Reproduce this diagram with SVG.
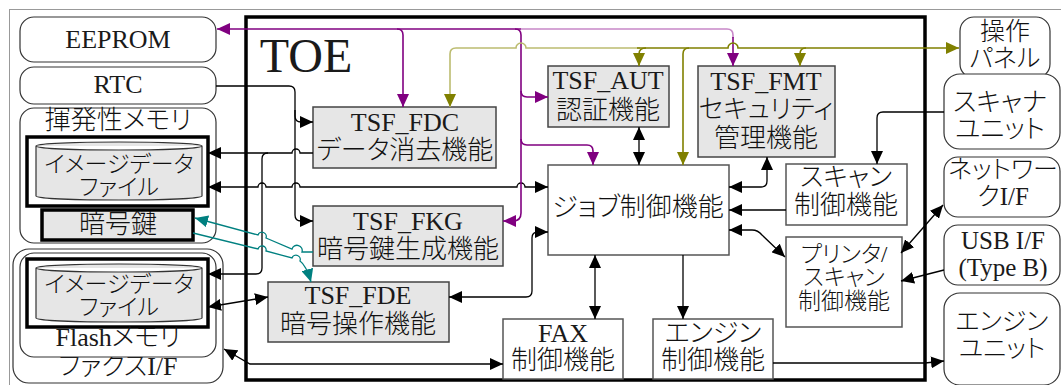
<svg xmlns="http://www.w3.org/2000/svg" width="1061" height="385" viewBox="0 0 1061 385">
<style>
text{font-family:"Liberation Serif","Noto Sans CJK JP",serif;font-size:26px;font-weight:300;fill:#111;text-anchor:middle;font-feature-settings:"palt"}
text.L,tspan.L{font-weight:400;fill:#1a1a1a}
text.s{font-size:23px}
text.r{font-size:25px}
.rb{fill:#fff;stroke:#333;stroke-width:1.2}
.gb{fill:#e6e6e6;stroke:#444;stroke-width:1.5}
.wb{fill:#fff;stroke:#555;stroke-width:1.5}
.tk{fill:#fff;stroke:#000;stroke-width:3.5}
.cyl{fill:#e6e6e6;stroke:#333;stroke-width:1.2}
.ka{fill:none;stroke:#000;stroke-width:1.3;marker-end:url(#ak)}
.kb{fill:none;stroke:#000;stroke-width:1.3;marker-end:url(#ak);marker-start:url(#ak)}
.pa{fill:none;stroke:#800080;stroke-width:1.6;marker-end:url(#ap)}
.pl{fill:none;stroke:#c888c8;stroke-width:1.6}
.oa{fill:none;stroke:#808000;stroke-width:1.6;marker-end:url(#ao)}
.ol{fill:none;stroke:#bcbc70;stroke-width:1.6;marker-end:url(#ao)}
.ta{fill:none;stroke:#008080;stroke-width:1.3;marker-end:url(#at)}
</style>
<defs>
<marker id="ak" viewBox="0 0 13 12" refX="13" refY="6" markerWidth="13" markerHeight="12" markerUnits="userSpaceOnUse" orient="auto-start-reverse"><path d="M0,0 L13,6 L0,12 Z" fill="#000"/></marker>
<marker id="ap" viewBox="0 0 13 12" refX="13" refY="6" markerWidth="13" markerHeight="12" markerUnits="userSpaceOnUse" orient="auto-start-reverse"><path d="M0,0 L13,6 L0,12 Z" fill="#800080"/></marker>
<marker id="ao" viewBox="0 0 13 12" refX="13" refY="6" markerWidth="13" markerHeight="12" markerUnits="userSpaceOnUse" orient="auto-start-reverse"><path d="M0,0 L13,6 L0,12 Z" fill="#808000"/></marker>
<marker id="at" viewBox="0 0 13 12" refX="13" refY="6" markerWidth="13" markerHeight="12" markerUnits="userSpaceOnUse" orient="auto-start-reverse"><path d="M0,0 L13,6 L0,12 Z" fill="#008080"/></marker>
</defs>
<rect width="1061" height="385" fill="#fff"/>
<rect x="9.5" y="9.5" width="1060" height="385" fill="none" stroke="#333" stroke-width="1" stroke-dasharray="1,1"/>

<g id="toe">
<rect x="246" y="17" width="679" height="363" fill="none" stroke="#000" stroke-width="3.5"/>
<text class="L" x="306" y="72" style="font-size:48px">TOE</text>
</g>

<g id="eeprom"><rect class="rb" x="20" y="17" width="196" height="45" rx="14"/><text class="L" x="118" y="48">EEPROM</text></g>
<g id="rtc"><rect class="rb" x="20" y="67" width="196" height="37" rx="14"/><text class="L" x="118" y="93">RTC</text></g>
<g id="volatile">
<rect class="rb" x="20" y="108" width="196" height="135" rx="14"/>
<text x="118" y="129">揮発性メモリ</text>
<rect class="tk" x="27" y="137" width="181" height="69"/>
<path class="cyl" d="M36,146 A83,4 0 0 1 202,146 L202,196 A83,4 0 0 1 36,196 Z M36,146 A83,4 0 0 0 202,146"/>
<text class="s" x="119" y="172">イメージデータ</text>
<text class="s" x="119" y="195">ファイル</text>
</g>
<g id="key"><rect class="tk" x="42" y="210" width="151" height="30" style="fill:#e6e6e6"/><text x="118" y="233">暗号鍵</text></g>
<g id="faxif">
<rect class="rb" x="13" y="249" width="210" height="134" rx="16"/>
<text x="118" y="375">ファクス<tspan class="L">I/F</tspan></text>
</g>
<g id="flash">
<rect class="rb" x="20" y="253" width="196" height="104" rx="14"/>
<rect class="tk" x="27" y="259" width="181" height="68"/>
<path class="cyl" d="M36,268 A83,4 0 0 1 202,268 L202,318 A83,4 0 0 1 36,318 Z M36,268 A83,4 0 0 0 202,268"/>
<text class="s" x="119" y="292">イメージデータ</text>
<text class="s" x="119" y="315">ファイル</text>
<text x="118" y="346"><tspan class="L">Flash</tspan>メモリ</text>
</g>

<g id="panel"><rect class="rb" x="960" y="17" width="90" height="61" rx="14"/><text class="r" x="1005" y="40">操作</text><text class="r" x="1005" y="67">パネル</text></g>
<g id="scanner"><rect class="rb" x="944" y="74" width="116" height="75" rx="16"/><text x="1000" y="111">スキャナ</text><text x="1000" y="138">ユニット</text></g>
<g id="network"><rect class="rb" x="944" y="157" width="116" height="60" rx="14"/><text class="r" x="1003" y="178">ネットワー</text><text class="r" x="1003" y="205">ク<tspan class="L">I/F</tspan></text></g>
<g id="usb"><rect class="rb" x="944" y="225" width="116" height="60" rx="14"/><text class="L r" x="1003" y="249">USB I/F</text><text class="L r" x="1003" y="276">(Type B)</text></g>
<g id="engineunit"><rect class="rb" x="944" y="293" width="116" height="92" rx="16"/><text class="r" x="1002" y="330">エンジン</text><text class="r" x="1002" y="357">ユニット</text></g>

<g id="fdc"><rect class="gb" x="313" y="107" width="183" height="61"/><text class="L" x="405" y="131">TSF_FDC</text><text x="405" y="159">データ消去機能</text></g>
<g id="aut"><rect class="gb" x="548" y="66" width="121" height="61"/><text class="L" x="608" y="89">TSF_AUT</text><text x="608" y="119">認証機能</text></g>
<g id="fmt"><rect class="gb" x="698" y="66" width="137" height="91"/><text class="L" x="766" y="90">TSF_FMT</text><text x="766" y="118">セキュリティ</text><text x="766" y="147">管理機能</text></g>
<g id="job"><rect class="wb" x="548" y="165" width="181" height="90"/><text x="638" y="216">ジョブ制御機能</text></g>
<g id="scanctl"><rect class="wb" x="786" y="164" width="121" height="61"/><text x="846" y="186">スキャン</text><text x="846" y="214">制御機能</text></g>
<g id="printer"><rect class="wb" x="786" y="237" width="116" height="90"/><text class="s" x="844" y="262">プリンタ/</text><text class="s" x="844" y="285">スキャン</text><text class="s" x="844" y="309">制御機能</text></g>
<g id="fkg"><rect class="gb" x="313" y="206" width="190" height="60"/><text class="L" x="408" y="230">TSF_FKG</text><text x="408" y="258">暗号鍵生成機能</text></g>
<g id="fde"><rect class="gb" x="268" y="282" width="181" height="60"/><text class="L" x="358" y="304">TSF_FDE</text><text x="358" y="333">暗号操作機能</text></g>
<g id="fax"><rect class="wb" x="503" y="319" width="120" height="60"/><text class="L" x="563" y="342">FAX</text><text x="563" y="369">制御機能</text></g>
<g id="engctl"><rect class="wb" x="653" y="319" width="120" height="60"/><text x="713" y="342">エンジン</text><text x="713" y="369">制御機能</text></g>

<g id="connectors">
<path class="ka" d="M216,86 H289 Q295,86 295,92 V116 Q295,122 301,122 H313"/>
<path class="ka" d="M295,110 V215 Q295,221 301,221 H313"/>
<path class="ka" d="M313,153 H300 A4,4 0 0 0 292,153 H208"/>
<path class="ka" d="M268,153 Q262,153 262,159 V268 Q262,274 256,274 H208"/>
<path class="kb" d="M548,187 H525 A4,4 0 0 0 517,187 H300 A4,4 0 0 0 292,187 H266 A4,4 0 0 0 258,187 H208"/>
<path class="kb" d="M449,297 H526 Q532,297 532,291 V238 Q532,232 538,232 H548"/>
<path class="kb" d="M268,297 L208,307"/>
<path class="kb" d="M224,349 L250,364 H503"/>
<path class="kb" d="M595,255 V319"/>
<path class="ka" d="M683,255 V319"/>
<path class="kb" d="M639,127 V165"/>
<path class="kb" d="M767,157 V181 Q767,187 761,187 H729"/>
<path class="ka" d="M786,210 H729"/>
<path class="kb" d="M729,230 H752 Q758,230 762,235 L785,257"/>
<path class="ka" d="M944,112 H883 Q877,112 877,118 V164"/>
<path class="kb" d="M943,205 L901,253"/>
<path class="ka" d="M944,270 L901,281"/>
<path class="ka" d="M773,363 H925 L944,361"/>
<path class="pa" d="M521,29 H217"/>
<path class="pa" d="M515,29 Q521,29 521,35 V213 Q521,221 513,221 H503"/>
<path class="pa" d="M397,29 Q403,29 403,35 V107"/>
<path class="pa" d="M521,91 Q521,97 527,97 H548"/>
<path class="pa" d="M521,139 Q521,145 527,145 H587 Q593,145 593,151 V165"/>
<path class="pl" d="M521,29 H727 Q733,29 733,35 V38"/>
<path class="pa" d="M733,37 V66"/>
<path class="ol" d="M640,48 H526 A5,5 0 0 0 516,48 H456 Q450,48 450,54 V107"/>
<path class="oa" d="M646,48 Q639,48 639,54 V66"/>
<path class="oa" d="M637,48 H728 A5,5 0 0 1 738,48 H959"/>
<path class="oa" d="M689,48 Q683,48 683,54 V165"/>
<path class="oa" d="M806,48 Q800,48 800,54 V66"/>
<path class="ta" d="M313,252 H302 A4,4 0 0 0 292,249 L266,238 A4,4 0 0 0 258,235 L195,218"/>
<path class="ta" d="M193,233 L258,249 A4,4 0 0 1 266,251 L292,258 A4,4 0 0 1 300,261 Q306,265 311,282"/>
</g>
</svg>
